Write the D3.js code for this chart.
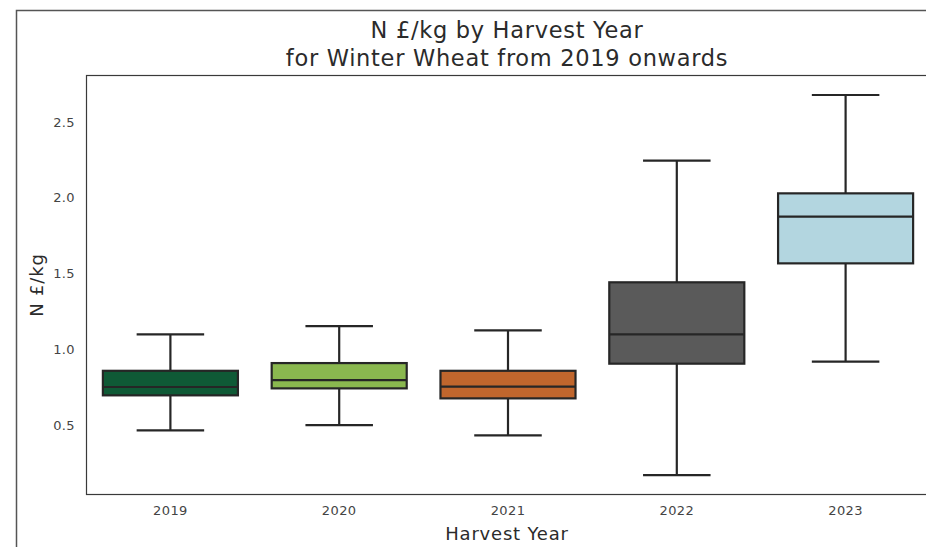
<!DOCTYPE html>
<html>
<head>
<meta charset="utf-8">
<script src="https://cdn.jsdelivr.net/npm/d3@7"></script>
<style>
  html, body { margin: 0; padding: 0; background: #fff; }
  svg { display: block; font-family: "DejaVu Sans", sans-serif; }
</style>
</head>
<body>
<svg id="chart" width="926" height="547"></svg>
<script>
// Harvest years and their box-plot summaries (N £/kg)
const years = ["2019", "2020", "2021", "2022", "2023"];
const whiskerLow  = [0.465, 0.50, 0.432, 0.17, 0.918];
const q1          = [0.696, 0.742, 0.676, 0.905, 1.567];
const median      = [0.751, 0.797, 0.753, 1.099, 1.875];
const q3          = [0.858, 0.909, 0.858, 1.442, 2.029];
const whiskerHigh = [1.099, 1.153, 1.125, 2.245, 2.678];
const boxColors   = ["#0f5a36", "#8ab84f", "#c0662d", "#5a5a5a", "#b3d6e0"];
const yTicks      = [0.5, 1.0, 1.5, 2.0, 2.5];

const rows = years.map((y, i) => ({
  year: y, lo: whiskerLow[i], q1: q1[i], med: median[i], q3: q3[i], hi: whiskerHigh[i], color: boxColors[i]
}));

const svg = d3.select("#chart");
const plot = { left: 86, right: 930, top: 75, bottom: 494 };

// Outer figure border (left and top edges visible)
svg.append("path")
  .attr("d", "M16.5,547 L16.5,10.5 L926,10.5")
  .attr("fill", "none").attr("stroke", "#555").attr("stroke-width", 1.5);

const x = d3.scaleBand().domain(years).range([plot.left, plot.right]).paddingInner(0).paddingOuter(0);
const y = d3.scaleLinear().domain([0.045, 2.81]).range([plot.bottom, plot.top]);

const ink = "#262626";

// Axes (no tick marks, labels only)
const xAxis = svg.append("g")
  .attr("transform", `translate(0,${plot.bottom})`)
  .call(d3.axisBottom(x).tickSize(0).tickPadding(12));
xAxis.select(".domain").remove();
xAxis.selectAll("text").attr("font-size", 13).attr("fill", "#444")
  .attr("font-family", "DejaVu Sans, sans-serif").attr("letter-spacing", 0.4);

const yAxis = svg.append("g")
  .attr("transform", `translate(${plot.left},0)`)
  .call(d3.axisLeft(y).tickValues(yTicks).tickFormat(d3.format(".1f")).tickSize(0).tickPadding(11));
yAxis.select(".domain").remove();
yAxis.selectAll("text").attr("font-size", 13).attr("fill", "#444")
  .attr("font-family", "DejaVu Sans, sans-serif").attr("letter-spacing", 0.4);

// Boxes
const boxW = x.bandwidth() * 0.8;
const capW = boxW * 0.5;
const g = svg.append("g");
const items = g.selectAll("g.box").data(rows).join("g").attr("class", "box")
  .attr("transform", d => `translate(${x(d.year) + x.bandwidth() / 2},0)`);

items.append("line").attr("x1", 0).attr("x2", 0)
  .attr("y1", d => y(d.hi)).attr("y2", d => y(d.q3))
  .attr("stroke", ink).attr("stroke-width", 2.2);
items.append("line").attr("x1", 0).attr("x2", 0)
  .attr("y1", d => y(d.q1)).attr("y2", d => y(d.lo))
  .attr("stroke", ink).attr("stroke-width", 2.2);
items.append("line").attr("x1", -capW / 2).attr("x2", capW / 2)
  .attr("y1", d => y(d.hi)).attr("y2", d => y(d.hi))
  .attr("stroke", ink).attr("stroke-width", 2.2);
items.append("line").attr("x1", -capW / 2).attr("x2", capW / 2)
  .attr("y1", d => y(d.lo)).attr("y2", d => y(d.lo))
  .attr("stroke", ink).attr("stroke-width", 2.2);
items.append("rect")
  .attr("x", -boxW / 2).attr("width", boxW)
  .attr("y", d => y(d.q3)).attr("height", d => y(d.q1) - y(d.q3))
  .attr("fill", d => d.color).attr("stroke", ink).attr("stroke-width", 2.2);
items.append("line").attr("x1", -boxW / 2).attr("x2", boxW / 2)
  .attr("y1", d => y(d.med)).attr("y2", d => y(d.med))
  .attr("stroke", ink).attr("stroke-width", 2.2);

// Plot frame
svg.append("rect")
  .attr("x", plot.left + 0.5).attr("y", plot.top + 0.5)
  .attr("width", plot.right - plot.left).attr("height", plot.bottom - plot.top)
  .attr("fill", "none").attr("stroke", "#3a3a3a").attr("stroke-width", 1.2);

// Title
const title = svg.append("text").attr("text-anchor", "middle").attr("fill", "#2b2b2b")
  .attr("font-size", 22.5).attr("letter-spacing", 0.7);
title.append("tspan").attr("x", 507).attr("y", 38).text("N £/kg by Harvest Year");
title.append("tspan").attr("x", 507).attr("y", 66).text("for Winter Wheat from 2019 onwards");

// Axis titles
svg.append("text").attr("x", 507).attr("y", 540).attr("text-anchor", "middle")
  .attr("font-size", 18).attr("letter-spacing", 0.8).attr("fill", "#2b2b2b").text("Harvest Year");
svg.append("text").attr("transform", "translate(43,285) rotate(-90)").attr("text-anchor", "middle")
  .attr("font-size", 18).attr("letter-spacing", 0.8).attr("fill", "#2b2b2b").text("N £/kg");
</script>
</body>
</html>
